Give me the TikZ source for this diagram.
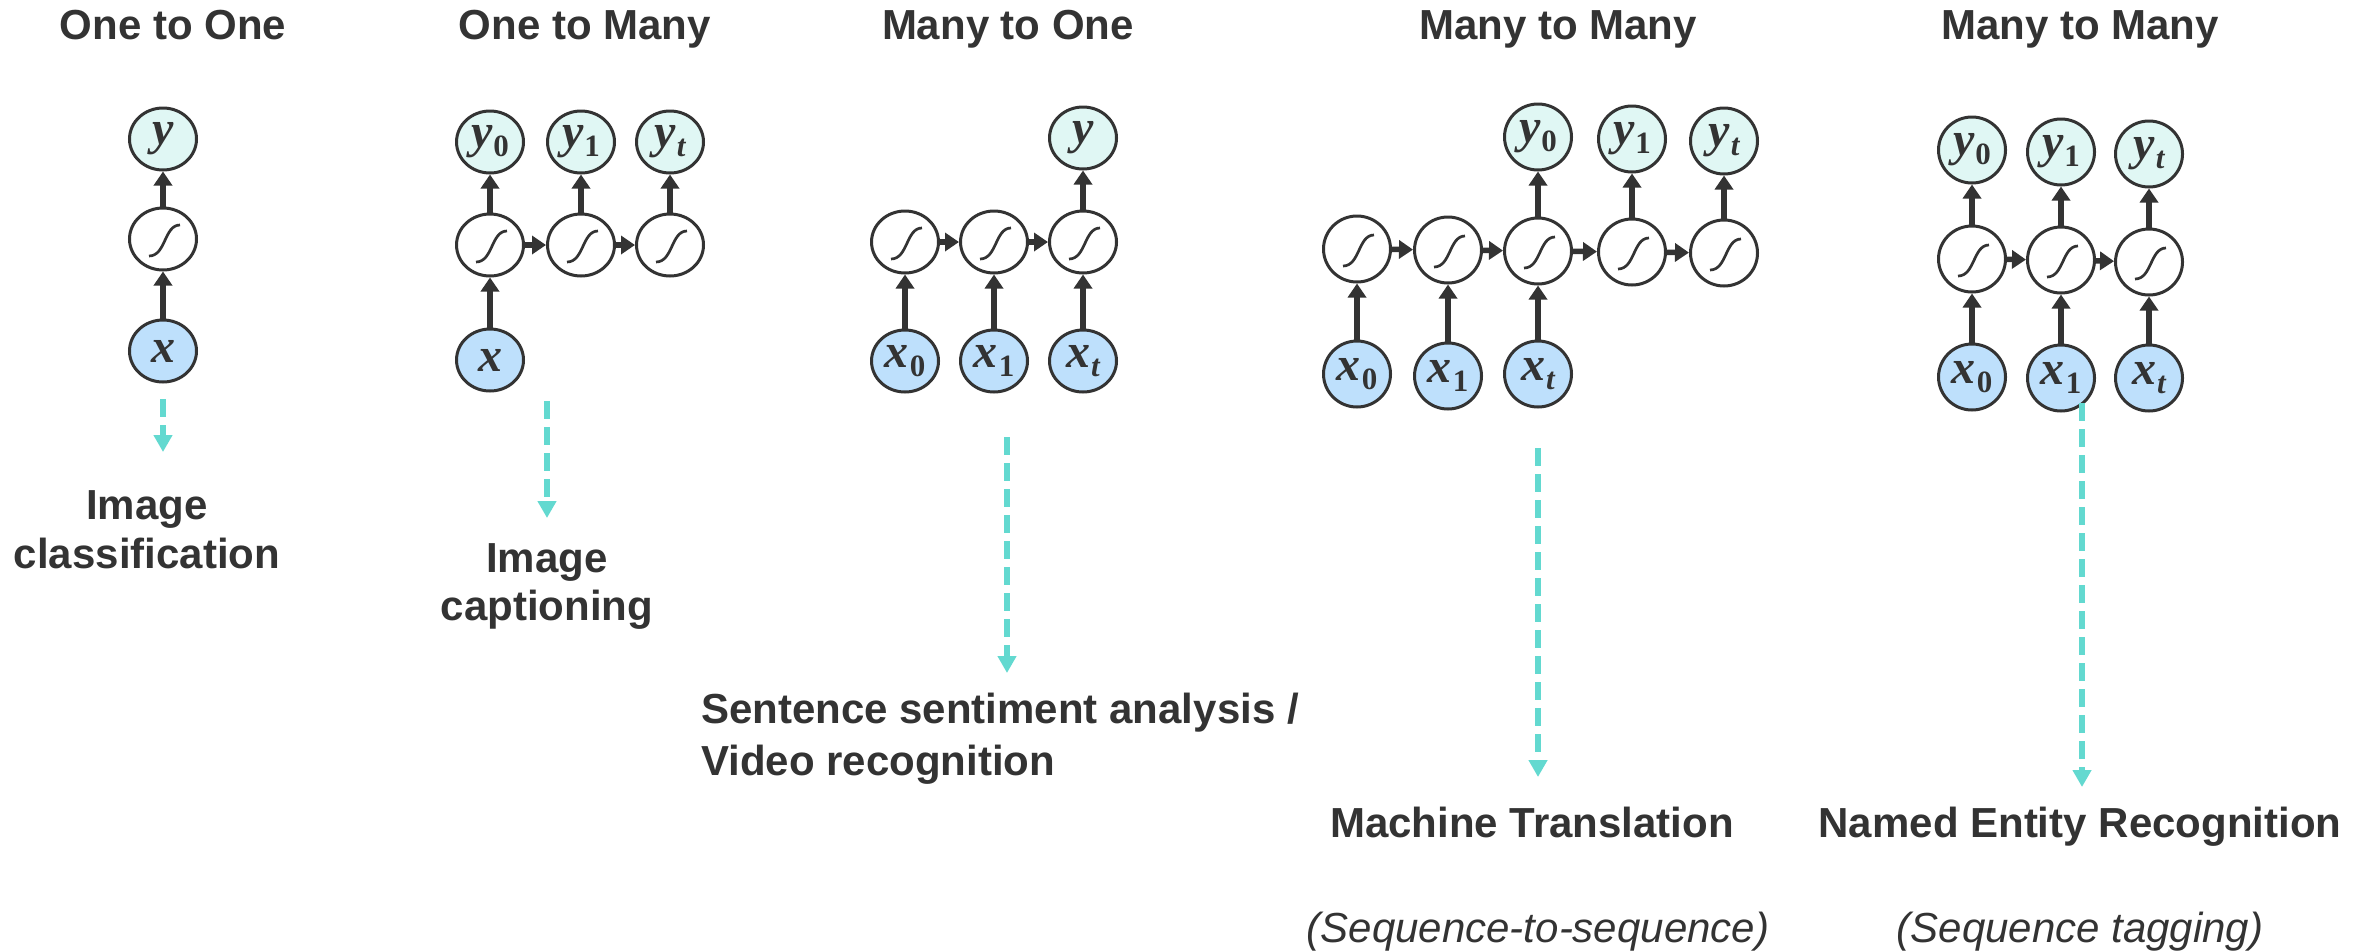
\documentclass[tikz,border=0pt]{standalone}
\usepackage{fontspec}
\setmainfont{Liberation Sans}
\newfontfamily\symfont{Liberation Serif}
\usetikzlibrary{shapes.geometric,arrows.meta}
\definecolor{ink}{HTML}{333333}
\definecolor{inblue}{HTML}{BEE0FC}
\definecolor{outcyan}{HTML}{E0F7F4}
\definecolor{flowcyan}{HTML}{63D9D0}
% variable name with an optional subscript, set in a bold serif
\newcommand\var[2]{{\symfont\bfseries\itshape #1}\ifx\relax#2\relax\else\kern1pt\raisebox{-9pt}{\fontsize{31}{31}\selectfont\symfont\bfseries #2}\fi}
\begin{document}
\begin{tikzpicture}[x=1pt,y=-1pt,
  cell/.style={ellipse,draw=ink,line width=3pt,minimum width=67pt,minimum height=62pt,
    inner sep=0pt,text=ink,font=\fontsize{48}{48}\selectfont},
  tall/.style={minimum height=66pt},
  rnn/.style={cell,fill=white,
    path picture={\draw[ink,line width=2.7pt]
      ([shift={(-14pt,-17pt)}]path picture bounding box.center)
      .. controls ([shift={(3pt,-17pt)}]path picture bounding box.center)
      and ([shift={(1pt,14pt)}]path picture bounding box.center)
      .. ([shift={(17pt,14pt)}]path picture bounding box.center);}},
  inp/.style={cell,fill=inblue},
  outp/.style={cell,fill=outcyan},
  flow/.style={draw=ink,line width=5.5pt,-{Triangle[length=14pt,width=18pt]}},
  task/.style={draw=flowcyan,line width=5.5pt,dash pattern=on 18pt off 8pt,
    -{Triangle[length=17pt,width=18pt]}},
  title/.style={font=\fontsize{42}{50}\selectfont\bfseries,text=ink,anchor=base,inner sep=0pt},
  note/.style={font=\fontsize{42}{50}\selectfont\itshape,text=ink,anchor=base,inner sep=0pt}]
\fill[white] (0,0) rectangle (2374,951);
\useasboundingbox (0,0) rectangle (2374,951);

% ---------- One to One ----------
\node[title] (t1) at (173,39) {One to One};
\node[outp] (a-y) at (163,139) {\var{y}{}};
\node[rnn]  (a-h) at (163,239) {};
\node[inp]  (a-x) at (163,351) {\var{x}{}};
\draw[flow] (a-x) -- (a-h);
\draw[flow] (a-h) -- (a-y);
\coordinate (a-s) at (163,399);
\coordinate (a-e) at (163,452);
\draw[task] (a-s) -- (a-e);
\node[title] (a-l1) at (147,519) {Image};
\node[title] (a-l2) at (147,568) {classification};

% ---------- One to Many ----------
\node[title] (t2) at (585,39) {One to Many};
\node[outp] (b-y0) at (490,142) {\var{y}{0}};
\node[outp] (b-y1) at (581,142) {\var{y}{1}};
\node[outp] (b-y2) at (670,142) {\var{y}{\itshape t}};
\node[rnn]  (b-h0) at (490,245) {};
\node[rnn]  (b-h1) at (581,245) {};
\node[rnn]  (b-h2) at (670,245) {};
\node[inp]  (b-x)  at (490,360) {\var{x}{}};
\draw[flow] (b-x) -- (b-h0);
\draw[flow] (b-h0) -- (b-y0);
\draw[flow] (b-h1) -- (b-y1);
\draw[flow] (b-h2) -- (b-y2);
\draw[flow] (b-h0) -- (b-h1);
\draw[flow] (b-h1) -- (b-h2);
\coordinate (b-s) at (547,401);
\coordinate (b-e) at (547,518);
\draw[task] (b-s) -- (b-e);
\node[title] (b-l1) at (547,572) {Image};
\node[title] (b-l2) at (547,620) {captioning};

% ---------- Many to One ----------
\node[title] (t3) at (1008,39) {Many to One};
\node[outp] (c-y)  at (1083,138) {\var{y}{}};
\node[rnn]  (c-h0) at (905,242) {};
\node[rnn]  (c-h1) at (994,242) {};
\node[rnn]  (c-h2) at (1083,242) {};
\node[inp]  (c-x0) at (905,361) {\var{x}{0}};
\node[inp]  (c-x1) at (994,361) {\var{x}{1}};
\node[inp]  (c-x2) at (1083,361) {\var{x}{\itshape t}};
\draw[flow] (c-x0) -- (c-h0);
\draw[flow] (c-x1) -- (c-h1);
\draw[flow] (c-x2) -- (c-h2);
\draw[flow] (c-h0) -- (c-h1);
\draw[flow] (c-h1) -- (c-h2);
\draw[flow] (c-h2) -- (c-y);
\coordinate (c-s) at (1007,437);
\coordinate (c-e) at (1007,673);
\draw[task] (c-s) -- (c-e);
\node[title,anchor=base west] (c-l1) at (701,723) {Sentence sentiment analysis /};
\node[title,anchor=base west] (c-l2) at (701,775) {Video recognition};

% ---------- Many to Many (sequence-to-sequence) ----------
\node[title] (t4) at (1558,39) {Many to Many};
\node[outp,tall] (d-y0) at (1538,137) {\var{y}{0}};
\node[outp,tall] (d-y1) at (1632,139) {\var{y}{1}};
\node[outp,tall] (d-y2) at (1724,141) {\var{y}{\itshape t}};
\node[rnn,tall]  (d-h0) at (1357,249) {};
\node[rnn,tall]  (d-h1) at (1448,250) {};
\node[rnn,tall]  (d-h2) at (1538,251) {};
\node[rnn,tall]  (d-h3) at (1632,252) {};
\node[rnn,tall]  (d-h4) at (1724,253) {};
\node[inp,tall]  (d-x0) at (1357,374) {\var{x}{0}};
\node[inp,tall]  (d-x1) at (1448,376) {\var{x}{1}};
\node[inp,tall]  (d-x2) at (1538,374) {\var{x}{\itshape t}};
\draw[flow] (d-x0) -- (d-h0);
\draw[flow] (d-x1) -- (d-h1);
\draw[flow] (d-x2) -- (d-h2);
\draw[flow] (d-h0) -- (d-h1);
\draw[flow] (d-h1) -- (d-h2);
\draw[flow] (d-h2) -- (d-h3);
\draw[flow] (d-h3) -- (d-h4);
\draw[flow] (d-h2) -- (d-y0);
\draw[flow] (d-h3) -- (d-y1);
\draw[flow] (d-h4) -- (d-y2);
\coordinate (d-s) at (1538,448);
\coordinate (d-e) at (1538,777);
\draw[task] (d-s) -- (d-e);
\node[title] (d-l1) at (1532,837) {Machine Translation};
\node[note]  (d-l2) at (1538,942) {(Sequence-to-sequence)};

% ---------- Many to Many (sequence tagging) ----------
\node[title] (t5) at (2080,39) {Many to Many};
\node[outp,tall] (e-y0) at (1972,150) {\var{y}{0}};
\node[outp,tall] (e-y1) at (2061,152) {\var{y}{1}};
\node[outp,tall] (e-y2) at (2149,154) {\var{y}{\itshape t}};
\node[rnn,tall]  (e-h0) at (1972,259) {};
\node[rnn,tall]  (e-h1) at (2061,260) {};
\node[rnn,tall]  (e-h2) at (2149,262) {};
\node[inp,tall]  (e-x0) at (1972,377) {\var{x}{0}};
\node[inp,tall]  (e-x1) at (2061,378) {\var{x}{1}};
\node[inp,tall]  (e-x2) at (2149,378) {\var{x}{\itshape t}};
\draw[flow] (e-x0) -- (e-h0);
\draw[flow] (e-x1) -- (e-h1);
\draw[flow] (e-x2) -- (e-h2);
\draw[flow] (e-h0) -- (e-h1);
\draw[flow] (e-h1) -- (e-h2);
\draw[flow] (e-h0) -- (e-y0);
\draw[flow] (e-h1) -- (e-y1);
\draw[flow] (e-h2) -- (e-y2);
\coordinate (e-s) at (2082,403);
\coordinate (e-e) at (2082,787);
\draw[task] (e-s) -- (e-e);
\node[title] (e-l1) at (2080,837) {Named Entity Recognition};
\node[note]  (e-l2) at (2080,942) {(Sequence tagging)};
\end{tikzpicture}
\end{document}
